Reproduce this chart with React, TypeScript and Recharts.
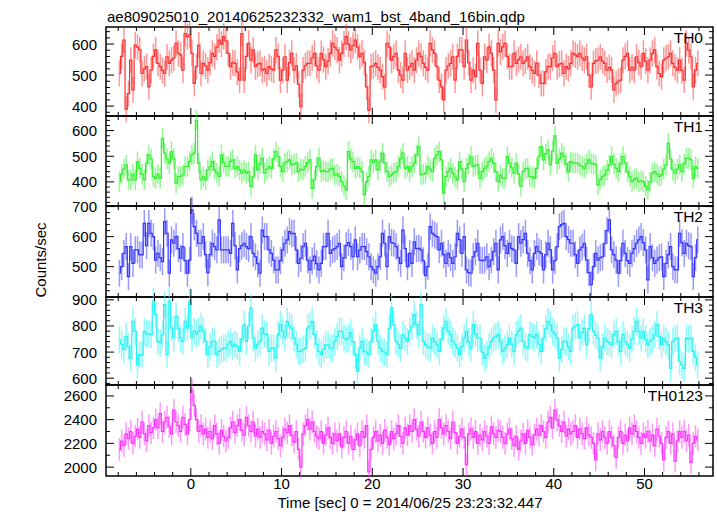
import { ComposedChart, Line, XAxis, YAxis, ErrorBar, ReferenceArea, ReferenceLine } from "recharts";

const W = 717;
const H = 516;
const FONT = "'Liberation Sans', Arial, Helvetica, sans-serif";

// frame geometry (px)
const PLOT_LEFT = 106;
const PLOT_RIGHT = 713;
const PANEL_TOPS = [27, 116, 206, 297, 385];
const PLOT_BOTTOM = 476;
const X_AXIS_H = 20;
const MAJOR_LEN = 8;
const MINOR_LEN = 4;

// time axis: 0.25 s bins, first bin centre at -7.875 s
const T_FIRST = -7.875;
const BIN = 0.25;
const X_DOMAIN: [number, number] = [-9.35, 57.55];
const X_TICKS = [-8, -6, -4, -2, 0, 2, 4, 6, 8, 10, 12, 14, 16, 18, 20, 22, 24, 26, 28, 30, 32, 34, 36, 38, 40, 42, 44, 46, 48, 50, 52, 54, 56];
const X_LABELS = [0, 10, 20, 30, 40, 50];

const th0 = [
  505, 560, 613, 390, 440, 548, 452, 597, 590, 581, 505, 520, 527, 462, 516, 560,
  581, 538, 527, 515, 505, 559, 538, 548, 555, 602, 570, 565, 516, 634, 624, 630,
  570, 473, 527, 597, 505, 538, 530, 516, 540, 570, 560, 590, 613, 600, 624, 610,
  570, 527, 540, 538, 510, 484, 634, 484, 560, 602, 548, 581, 527, 535, 538, 516,
  520, 505, 527, 520, 516, 581, 560, 484, 516, 559, 484, 540, 570, 516, 530, 470,
  398, 516, 530, 538, 538, 555, 570, 530, 516, 570, 550, 527, 545, 570, 602, 590,
  581, 548, 570, 600, 624, 600, 581, 595, 613, 590, 559, 570, 540, 462, 387, 527,
  530, 538, 525, 516, 495, 462, 602, 590, 548, 560, 570, 516, 500, 484, 570, 516,
  527, 538, 516, 548, 570, 560, 538, 525, 516, 602, 581, 570, 527, 484, 462, 420,
  516, 530, 538, 559, 484, 560, 581, 581, 527, 613, 540, 484, 516, 495, 602, 516,
  473, 559, 548, 591, 570, 516, 420, 602, 575, 591, 602, 560, 527, 527, 570, 538,
  550, 559, 538, 545, 559, 527, 515, 505, 538, 500, 473, 473, 510, 527, 527, 555,
  570, 527, 535, 538, 505, 527, 520, 538, 570, 565, 559, 570, 555, 548, 559, 500,
  462, 538, 545, 548, 559, 545, 538, 516, 525, 516, 452, 473, 480, 484, 548, 560,
  570, 516, 525, 516, 559, 540, 527, 570, 545, 516, 548, 570, 581, 527, 505, 495,
  548, 555, 559, 570, 538, 525, 516, 548, 515, 484, 602, 580, 559, 462, 516, 538,
];
const th1 = [
  401, 430, 450, 466, 408, 408, 430, 408, 479, 453, 430, 408, 473, 505, 490, 421,
  414, 430, 414, 570, 512, 490, 473, 518, 490, 395, 420, 421, 427, 460, 460, 480,
  505, 512, 640, 473, 408, 420, 408, 447, 460, 479, 447, 435, 421, 505, 475, 460,
  460, 480, 486, 453, 460, 447, 434, 445, 434, 440, 382, 420, 505, 447, 470, 492,
  434, 450, 460, 453, 490, 518, 499, 460, 440, 473, 480, 486, 466, 470, 473, 440,
  450, 447, 460, 475, 486, 375, 408, 460, 492, 440, 445, 440, 440, 450, 453, 427,
  430, 421, 401, 385, 369, 518, 490, 479, 453, 460, 453, 440, 349, 400, 421, 486,
  475, 486, 447, 480, 512, 473, 440, 421, 427, 435, 440, 460, 490, 512, 453, 460,
  440, 460, 473, 505, 538, 427, 430, 434, 460, 450, 440, 492, 505, 518, 486, 356,
  421, 440, 453, 434, 420, 408, 479, 450, 401, 453, 470, 499, 460, 465, 466, 414,
  440, 453, 460, 480, 492, 473, 440, 401, 427, 415, 414, 499, 473, 455, 434, 473,
  430, 382, 440, 450, 453, 421, 420, 414, 453, 500, 538, 486, 510, 525, 466, 520,
  580, 473, 490, 512, 499, 470, 440, 479, 475, 473, 473, 465, 460, 453, 470, 486,
  473, 470, 466, 388, 410, 421, 427, 445, 466, 499, 470, 453, 440, 470, 499, 473,
  440, 421, 401, 410, 414, 401, 405, 401, 382, 369, 400, 434, 440, 430, 421, 427,
  450, 466, 551, 490, 447, 434, 450, 466, 440, 470, 492, 492, 486, 414, 460, 453,
];
const th2 = [
  478, 500, 544, 567, 467, 567, 511, 556, 556, 540, 539, 644, 570, 644, 611, 600,
  522, 544, 530, 517, 650, 611, 478, 589, 578, 600, 560, 528, 567, 520, 478, 522,
  689, 633, 611, 578, 578, 600, 540, 480, 540, 578, 567, 556, 656, 556, 556, 556,
  556, 544, 644, 570, 489, 560, 570, 578, 567, 560, 600, 544, 533, 510, 478, 622,
  600, 600, 556, 544, 522, 489, 489, 520, 556, 578, 589, 617, 610, 611, 556, 511,
  528, 567, 578, 522, 489, 520, 535, 510, 489, 511, 567, 567, 611, 544, 556, 560,
  567, 578, 500, 530, 570, 580, 567, 533, 589, 533, 555, 567, 567, 550, 533, 500,
  489, 478, 500, 533, 611, 578, 500, 600, 580, 578, 567, 530, 511, 622, 560, 500,
  544, 511, 583, 560, 561, 556, 520, 470, 500, 633, 611, 605, 600, 556, 578, 540,
  511, 544, 530, 511, 533, 611, 590, 544, 600, 489, 480, 478, 533, 550, 578, 522,
  520, 522, 533, 500, 522, 550, 578, 489, 589, 600, 570, 544, 578, 560, 556, 511,
  600, 578, 590, 611, 544, 520, 489, 544, 567, 550, 544, 489, 540, 578, 556, 489,
  520, 567, 633, 640, 644, 600, 590, 578, 578, 540, 511, 556, 565, 578, 522, 480,
  440, 500, 544, 522, 530, 533, 578, 620, 656, 556, 540, 522, 478, 520, 578, 544,
  520, 511, 544, 560, 578, 589, 600, 580, 556, 456, 567, 530, 511, 522, 530, 533,
  467, 511, 540, 567, 500, 490, 489, 611, 580, 544, 578, 570, 567, 467, 530, 589,
];
const th3 = [
  747, 730, 709, 760, 720, 677, 818, 779, 651, 690, 690, 779, 770, 770, 767, 895,
  844, 741, 735, 767, 882, 690, 895, 792, 754, 837, 790, 754, 741, 818, 792, 895,
  754, 779, 770, 779, 800, 780, 741, 690, 720, 741, 741, 690, 703, 710, 715, 715,
  730, 741, 722, 730, 722, 703, 750, 805, 741, 800, 869, 754, 715, 730, 741, 792,
  770, 767, 703, 715, 715, 677, 767, 805, 780, 754, 818, 800, 792, 754, 730, 703,
  703, 710, 715, 792, 800, 818, 767, 730, 703, 690, 710, 728, 728, 715, 715, 741,
  760, 779, 779, 755, 747, 754, 775, 740, 690, 626, 715, 741, 703, 700, 690, 741,
  780, 805, 741, 715, 703, 700, 690, 792, 869, 805, 741, 730, 715, 767, 754, 741,
  779, 800, 844, 805, 767, 882, 741, 728, 720, 715, 754, 740, 728, 703, 750, 792,
  818, 780, 767, 741, 730, 715, 690, 720, 754, 779, 740, 715, 805, 770, 754, 754,
  700, 677, 690, 720, 741, 754, 760, 767, 741, 703, 715, 728, 754, 730, 703, 767,
  780, 792, 741, 720, 715, 767, 760, 754, 767, 730, 703, 754, 790, 818, 805, 779,
  770, 754, 677, 710, 741, 741, 720, 703, 792, 800, 805, 754, 775, 792, 728, 790,
  844, 779, 765, 754, 677, 720, 754, 741, 735, 728, 767, 779, 740, 703, 767, 740,
  728, 715, 750, 779, 818, 780, 754, 779, 750, 728, 741, 750, 767, 805, 760, 728,
  754, 740, 728, 638, 741, 750, 754, 664, 650, 638, 754, 750, 754, 703, 680, 651,
];
const th0123 = [
  2150, 2220, 2180, 2280, 2240, 2300, 2200, 2260, 2320, 2250, 2380, 2280, 2220, 2350, 2290, 2330,
  2400, 2330, 2450, 2300, 2380, 2420, 2340, 2280, 2480, 2380, 2350, 2300, 2420, 2360, 2280, 2400,
  2650, 2520, 2400, 2300, 2350, 2280, 2320, 2250, 2300, 2240, 2350, 2280, 2200, 2310, 2260, 2220,
  2250, 2330, 2380, 2290, 2350, 2400, 2310, 2270, 2420, 2350, 2300, 2380, 2260, 2320, 2250, 2300,
  2280, 2230, 2310, 2200, 2260, 2300, 2240, 2180, 2250, 2320, 2290, 2350, 2270, 2210, 2300, 2150,
  2000, 2280, 2350, 2400, 2320, 2380, 2300, 2260, 2240, 2300, 2200, 2270, 2330, 2250, 2200, 2280,
  2220, 2280, 2170, 2250, 2300, 2200, 2260, 2150, 2230, 2280, 2180, 2300, 2250, 2350, 1960, 2150,
  2250, 2300, 2220, 2270, 2200, 2310, 2250, 2190, 2300, 2240, 2280, 2350, 2260, 2200, 2330, 2270,
  2350, 2300, 2400, 2320, 2260, 2380, 2300, 2250, 2330, 2270, 2200, 2300, 2250, 2400, 2330, 2280,
  2350, 2300, 2240, 2380, 2290, 2200, 2260, 2320, 2250, 2020, 2280, 2320, 2250, 2300, 2200, 2270,
  2230, 2300, 2260, 2200, 2340, 2280, 2250, 2310, 2300, 2250, 2200, 2280, 2320, 2240, 2180, 2260,
  2150, 2220, 2280, 2200, 2310, 2250, 2190, 2270, 2320, 2270, 2350, 2300, 2250, 2380, 2420, 2330,
  2480, 2400, 2350, 2300, 2380, 2260, 2320, 2280, 2300, 2350, 2250, 2320, 2280, 2240, 2330, 2270,
  2250, 2200, 2060, 2280, 2230, 2300, 2250, 2200, 2300, 2250, 2180, 2080, 2250, 2300, 2200, 2270,
  2220, 2330, 2280, 2350, 2300, 2250, 2200, 2280, 2250, 2300, 2220, 2270, 2180, 2320, 2260, 2200,
  2060, 2250, 2300, 2200, 2280, 2050, 2220, 2300, 2250, 2300, 2220, 2270, 2040, 2200, 2260, 2230,
];

// typical 1-sigma error per band (counts/sec)
const TH0_ERR = 42;
const TH1_ERR = 40;
const TH2_ERR = 45;
const TH3_ERR = 52;
const TH0123_ERR = 95;

const TH0_LABELS = [400, 500, 600];
const TH1_LABELS = [400, 500, 600];
const TH2_LABELS = [500, 600, 700];
const TH3_LABELS = [600, 700, 800, 900];
const TH0123_LABELS = [2000, 2200, 2400, 2600];

const panels = [
  { name: "TH0", values: th0, err: TH0_ERR, domain: [368, 655], labels: TH0_LABELS, minor: 20, color: "#ff2e2e" },
  { name: "TH1", values: th1, err: TH1_ERR, domain: [306, 657], labels: TH1_LABELS, minor: 20, color: "#2ef02e" },
  { name: "TH2", values: th2, err: TH2_ERR, domain: [399, 702], labels: TH2_LABELS, minor: 20, color: "#3434ff" },
  { name: "TH3", values: th3, err: TH3_ERR, domain: [574, 911], labels: TH3_LABELS, minor: 20, color: "#22f4f4" },
  { name: "TH0123", values: th0123, err: TH0123_ERR, domain: [1925, 2692], labels: TH0123_LABELS, minor: 100, color: "#ff30ff" },
];

function minorTicks(domain: number[], step: number) {
  const out: number[] = [];
  for (let v = Math.ceil(domain[0] / step) * step; v <= domain[1]; v += step) out.push(v);
  return out;
}

function XLabel(props: any) {
  const { x, y, payload, showLabel } = props;
  if (!showLabel || !X_LABELS.includes(payload.value)) return <g />;
  return (
    <text x={x} y={y + 13} textAnchor="middle" fontFamily={FONT} fontSize={15} fill="#000">
      {payload.value}
    </text>
  );
}

function YLabel(props: any) {
  const { x, y, payload, labels } = props;
  if (!labels.includes(payload.value)) return <g />;
  return (
    <text x={x - 9} y={y + 5.5} textAnchor="end" fontFamily={FONT} fontSize={15} fill="#000">
      {payload.value}
    </text>
  );
}

function Panel({ p, idx }: { p: any; idx: number }) {
  const top = PANEL_TOPS[idx];
  const bottom = idx < PANEL_TOPS.length - 1 ? PANEL_TOPS[idx + 1] : PLOT_BOTTOM;
  const isLast = idx === PANEL_TOPS.length - 1;
  const data = p.values.map((v: number, i: number) => ({
    t: T_FIRST + i * BIN,
    v,
    ye: p.err,
  }));
  const yTicks = minorTicks(p.domain, p.minor);
  // tick lengths converted from px to data units of this panel
  const yUnit = (p.domain[1] - p.domain[0]) / (bottom - top);
  const xUnit = (X_DOMAIN[1] - X_DOMAIN[0]) / (PLOT_RIGHT - PLOT_LEFT);
  const [y0, y1] = p.domain;
  const [x0, x1] = X_DOMAIN;
  return (
    <div style={{ position: "absolute", left: 0, top: 0 }}>
      <ComposedChart
        width={W}
        height={H}
        data={data}
        margin={{ top, right: W - PLOT_RIGHT, bottom: H - bottom - X_AXIS_H, left: PLOT_LEFT - 50 }}
      >
        <XAxis
          type="number"
          dataKey="t"
          domain={X_DOMAIN}
          ticks={X_TICKS}
          interval={0}
          allowDataOverflow
          height={X_AXIS_H}
          tickSize={0}
          tickMargin={0}
          axisLine={false}
          tickLine={false}
          tick={(tp: any) => <XLabel {...tp} showLabel={isLast} />}
        />
        <YAxis
          type="number"
          domain={p.domain}
          ticks={yTicks}
          interval={0}
          allowDataOverflow
          width={50}
          tickSize={0}
          tickMargin={0}
          axisLine={false}
          tickLine={false}
          tick={(tp: any) => <YLabel {...tp} labels={p.labels} />}
        />
        <Line
          type="step"
          dataKey="v"
          stroke={p.color}
          strokeWidth={1.2}
          dot={false}
          activeDot={false}
          isAnimationActive={false}
        >
          <ErrorBar dataKey="ye" direction="y" width={0} stroke={p.color} strokeWidth={1.5} strokeOpacity={0.5} isAnimationActive={false} />
        </Line>
        {X_TICKS.map((t) => {
          const len = (X_LABELS.includes(t) ? MAJOR_LEN : MINOR_LEN) * yUnit;
          return [
            <ReferenceLine key={`xb${t}`} segment={[{ x: t, y: y0 }, { x: t, y: y0 + len }]} stroke="#000" strokeWidth={1} ifOverflow="visible" />,
            <ReferenceLine key={`xt${t}`} segment={[{ x: t, y: y1 }, { x: t, y: y1 - len }]} stroke="#000" strokeWidth={1} ifOverflow="visible" />,
          ];
        })}
        {yTicks.map((v) => {
          const len = (p.labels.includes(v) ? MAJOR_LEN : MINOR_LEN) * xUnit;
          return [
            <ReferenceLine key={`yl${v}`} segment={[{ x: x0, y: v }, { x: x0 + len, y: v }]} stroke="#000" strokeWidth={1} ifOverflow="visible" />,
            <ReferenceLine key={`yr${v}`} segment={[{ x: x1, y: v }, { x: x1 - len, y: v }]} stroke="#000" strokeWidth={1} ifOverflow="visible" />,
          ];
        })}
        <ReferenceArea
          x1={x0}
          x2={x1}
          y1={y0}
          y2={y1}
          fill="none"
          stroke="#000"
          strokeWidth={1.5}
          ifOverflow="visible"
        />
      </ComposedChart>
    </div>
  );
}

export default function App() {
  return (
    <div style={{ position: "absolute", left: 0, top: 0, width: W, height: H, background: "#fff", overflow: "hidden" }}>
      {panels.map((p, i) => (
        <Panel key={p.name} p={p} idx={i} />
      ))}
      <svg width={W} height={H} style={{ position: "absolute", left: 0, top: 0 }}>
        <text x={107} y={22} fontFamily={FONT} fontSize={15} fill="#000">
          ae809025010_20140625232332_wam1_bst_4band_16bin.qdp
        </text>
        {panels.map((p, i) => (
          <text key={p.name} x={703} y={PANEL_TOPS[i] + 16} textAnchor="end" fontFamily={FONT} fontSize={15.5} fill="#000">
            {p.name}
          </text>
        ))}
        <text x={46} y={260} transform="rotate(-90 46 260)" textAnchor="middle" fontFamily={FONT} fontSize={15} fill="#000">
          Counts/sec
        </text>
        <text x={410} y={508} textAnchor="middle" fontFamily={FONT} fontSize={15} fill="#000">
          Time [sec] 0 = 2014/06/25 23:23:32.447
        </text>
      </svg>
    </div>
  );
}
